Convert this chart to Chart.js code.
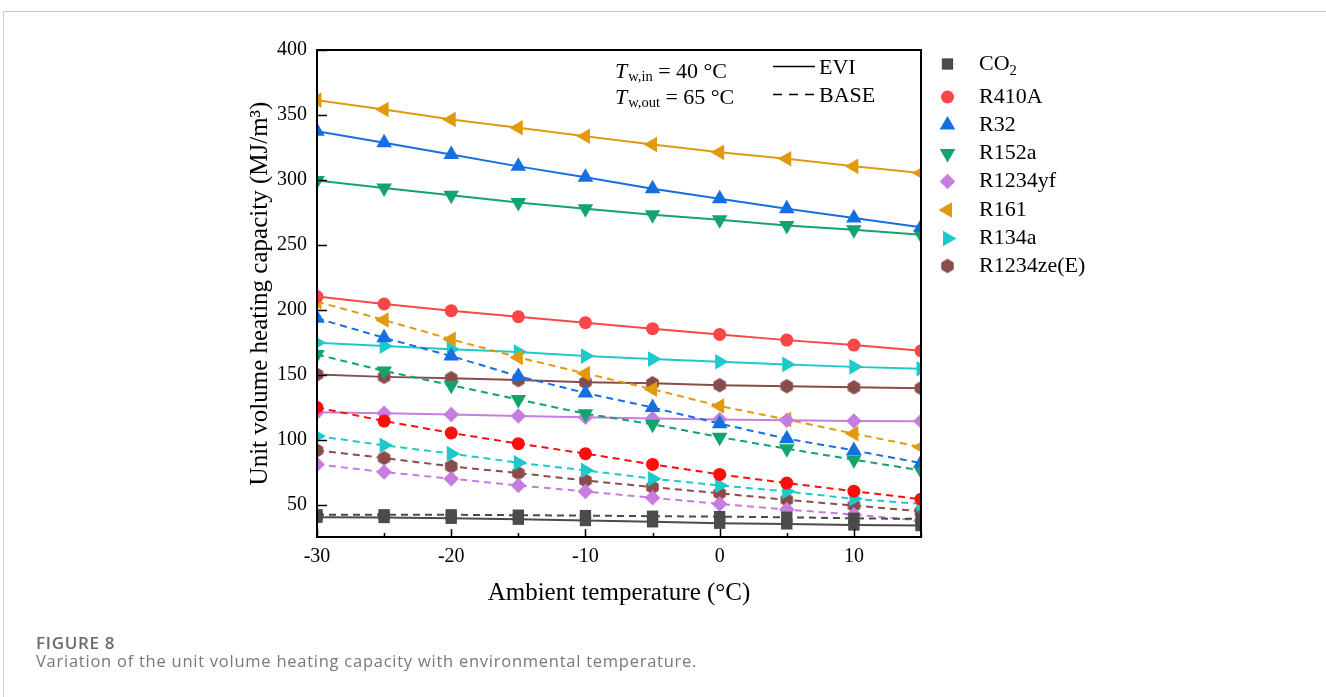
<!DOCTYPE html>
<html>
<head>
<meta charset="utf-8">
<script src="https://cdn.jsdelivr.net/npm/chart.js@4.4.1/dist/chart.umd.min.js"></script>
<style>
  html, body { margin: 0; padding: 0; background: #fff; }
  body { width: 1326px; height: 697px; position: relative; overflow: hidden; }
  #card { position: absolute; left: 3px; top: 11px; width: 1400px; height: 800px;
          border-top: 1px solid #c6c6c6; border-left: 1px solid #d0d0d0; }
  #chart { position: absolute; left: 0; top: 0; }
  .cap { position: absolute; left: 36px; font-family: "Open Sans", sans-serif; color: #6b6b6b; white-space: nowrap; }
  #capTitle { top: 631px; font-size: 17px; font-weight: 600; letter-spacing: 0.7px; }
  #capText { top: 649px; font-size: 16.5px; letter-spacing: 0.75px; color: #787878; }
</style>
</head>
<body>
<div id="card"></div>
<canvas id="chart" width="1326" height="697"></canvas>
<div class="cap" id="capTitle">FIGURE 8</div>
<div class="cap" id="capText">Variation of the unit volume heating capacity with environmental temperature.</div>

<script>
// ambient temperature (°C)
const temps = [-30, -25, -20, -15, -10, -5, 0, 5, 10, 15];
const xTicks = [-30, -20, -10, 0, 10];
const yTicks = [50, 100, 150, 200, 250, 300, 350, 400];

const refrigerants = ["CO2", "R410A", "R32", "R152a", "R1234yf", "R161", "R134a", "R1234ze(E)"];

// unit volume heating capacity (MJ/m3), EVI cycle
const co2Evi     = [40.2, 40.0, 39.4, 38.7, 37.7, 36.7, 35.6, 35.1, 34.3, 33.8];
const r410aEvi   = [210.1, 204.4, 199.3, 194.6, 190.0, 185.4, 181.0, 176.6, 172.8, 168.4];
const r32Evi     = [337.5, 328.5, 319.5, 310.4, 302.0, 293.2, 285.5, 277.8, 270.6, 263.6];
const r152aEvi   = [299.6, 293.8, 288.1, 282.6, 277.8, 273.1, 269.3, 264.9, 261.6, 257.7];
const r1234yfEvi = [121.0, 120.3, 119.3, 118.2, 117.2, 116.2, 115.4, 114.9, 114.3, 114.1];
const r161Evi    = [361.4, 354.2, 346.5, 340.1, 333.6, 327.2, 321.2, 316.2, 310.4, 305.3];
const r134aEvi   = [174.6, 172.0, 169.5, 167.4, 164.3, 162.0, 159.9, 157.9, 156.0, 154.5];
const r1234zeEvi = [150.1, 148.3, 147.3, 145.8, 144.2, 143.4, 141.9, 141.1, 140.3, 139.6];

// unit volume heating capacity (MJ/m3), BASE cycle
const co2Base     = [42.1, 42.1, 42.1, 41.8, 41.5, 41.0, 40.7, 40.2, 39.4, 38.9];
const r410aBase   = [124.7, 114.3, 105.1, 96.9, 89.2, 80.9, 73.2, 66.5, 60.3, 54.1];
const r32Base     = [193.4, 178.4, 164.3, 148.8, 135.9, 124.7, 112.3, 100.7, 91.7, 81.9];
const r152aBase   = [165.5, 152.9, 141.9, 130.8, 120.0, 111.8, 101.9, 93.0, 84.5, 76.3];
const r1234yfBase = [80.9, 75.0, 69.9, 64.7, 60.1, 55.2, 50.5, 46.1, 42.3, 37.6];
const r161Base    = [206.2, 192.1, 177.2, 163.3, 150.9, 138.8, 125.9, 115.4, 104.6, 94.3];
const r134aBase   = [102.7, 95.6, 89.2, 82.2, 76.3, 69.9, 64.7, 60.1, 54.4, 50.5];
const r1234zeBase = [91.7, 85.8, 79.4, 74.2, 68.5, 63.4, 58.7, 53.6, 49.2, 44.8];

const SERIF = '"Liberation Serif", "Times New Roman", serif';

// hexagon symbol (no built-in pointStyle for it)
function hexagon(color, r) {
  const c = document.createElement("canvas");
  const s = Math.ceil(r * 2 + 2);
  c.width = s; c.height = s;
  const g = c.getContext("2d");
  g.fillStyle = color;
  g.beginPath();
  for (let k = 0; k < 6; k++) {
    const a = Math.PI / 3 * k - Math.PI / 2;
    const px = s / 2 + r * Math.cos(a), py = s / 2 + r * Math.sin(a);
    k ? g.lineTo(px, py) : g.moveTo(px, py);
  }
  g.closePath();
  g.fill();
  return c;
}

const styles = [
  { color: "#4b4b4b", base: "#4b4b4b", pointStyle: "rect", rotation: 0, radius: 8 },
  { color: "#fb4646", base: "#ff0d0d", pointStyle: "circle", rotation: 0, radius: 6.5 },
  { color: "#1470e0", base: "#1470e0", pointStyle: "triangle", rotation: 0, radius: 9 },
  { color: "#12a46c", base: "#12a46c", pointStyle: "triangle", rotation: 180, radius: 9 },
  { color: "#c67ddf", base: "#c67ddf", pointStyle: "rectRot", rotation: 0, radius: 7.8 },
  { color: "#e09a0c", base: "#e09a0c", pointStyle: "triangle", rotation: 270, radius: 9 },
  { color: "#1ccaca", base: "#1ccaca", pointStyle: "triangle", rotation: 90, radius: 9 },
  { color: "#8a4b4b", base: "#8a4b4b", pointStyle: null, rotation: 0, radius: 7.2 }
];
styles[7].pointStyle = hexagon(styles[7].color, 7.2);

const eviSeries  = [co2Evi, r410aEvi, r32Evi, r152aEvi, r1234yfEvi, r161Evi, r134aEvi, r1234zeEvi];
const baseSeries = [co2Base, r410aBase, r32Base, r152aBase, r1234yfBase, r161Base, r134aBase, r1234zeBase];

const toXY = (vals) => temps.map((t, i) => ({ x: t, y: vals[i] }));

function makeSet(name, vals, st, color, dashed) {
  return {
    label: name + (dashed ? " BASE" : " EVI"),
    data: toXY(vals),
    borderColor: color,
    backgroundColor: color,
    borderWidth: 2,
    borderDash: dashed ? [7, 5] : [],
    pointStyle: st.pointStyle,
    pointRotation: st.rotation,
    pointRadius: st.radius,
    pointBorderWidth: 0,
    pointBackgroundColor: color,
    tension: 0,
    clip: 0
  };
}

const datasets = [];
refrigerants.forEach((name, i) => {
  datasets.push(makeSet(name, eviSeries[i], styles[i], styles[i].color, false));
  datasets.push(makeSet(name, baseSeries[i], styles[i], styles[i].base, true));
});

function markerAt(ctx, st, x, y) {
  ctx.save();
  ctx.fillStyle = st.color;
  ctx.strokeStyle = st.color;
  Chart.helpers.drawPoint(ctx, { pointStyle: st.pointStyle, rotation: st.rotation, radius: st.radius, borderWidth: 0 }, x, y);
  ctx.restore();
}

// frame, inward ticks, cycle/condition notes and symbol legend
const decorations = {
  id: "decorations",
  afterDraw(chart) {
    const { ctx, chartArea: a, scales } = chart;
    ctx.save();
    ctx.strokeStyle = "#000";
    ctx.lineWidth = 1.5;
    ctx.beginPath();
    scales.y.ticks.forEach(t => {
      const py = Math.round(scales.y.getPixelForValue(t.value)) + 0.5;
      ctx.moveTo(a.left, py); ctx.lineTo(a.left + 10, py);
    });
    temps.forEach(t => {
      const px = Math.round(scales.x.getPixelForValue(t)) + 0.5;
      const len = xTicks.includes(t) ? 8 : 4;
      ctx.moveTo(px, a.bottom); ctx.lineTo(px, a.bottom - len);
    });
    ctx.stroke();

    ctx.lineWidth = 2;
    ctx.strokeRect(a.left, a.top, a.right - a.left, a.bottom - a.top);

    // operating condition
    ctx.fillStyle = "#000";
    ctx.textBaseline = "alphabetic";
    const note = (x, y, sub, rest) => {
      ctx.font = "italic 22px " + SERIF;
      ctx.fillText("T", x, y);
      x += ctx.measureText("T").width + 1;
      ctx.font = "14.5px " + SERIF;
      ctx.fillText(sub, x, y + 3);
      x += ctx.measureText(sub).width;
      ctx.font = "22px " + SERIF;
      ctx.fillText(rest, x, y);
    };
    note(615, 78, "w,in", " = 40 \u00B0C");
    note(615, 104, "w,out", " = 65 \u00B0C");

    ctx.lineWidth = 1.6;
    ctx.beginPath();
    ctx.moveTo(773, 66.5); ctx.lineTo(815, 66.5);
    ctx.stroke();
    ctx.setLineDash([9, 7]);
    ctx.beginPath();
    ctx.moveTo(773, 94.5); ctx.lineTo(815, 94.5);
    ctx.stroke();
    ctx.setLineDash([]);
    ctx.font = "22px " + SERIF;
    ctx.fillText("EVI", 819, 74);
    ctx.fillText("BASE", 819, 102);

    // symbol legend
    const rows = [64, 97, 125, 153.5, 181.5, 210, 238.5, 266];
    refrigerants.forEach((name, i) => {
      markerAt(ctx, styles[i], 947.5, rows[i]);
      ctx.fillStyle = "#000";
      ctx.font = "22px " + SERIF;
      ctx.textBaseline = "middle";
      if (name === "CO2") {
        ctx.fillText("CO", 979, rows[i]);
        const w = ctx.measureText("CO").width;
        ctx.font = "14.5px " + SERIF;
        ctx.fillText("2", 979 + w, rows[i] + 7);
      } else {
        ctx.fillText(name, 979, rows[i]);
      }
    });
    ctx.restore();
  }
};

new Chart(document.getElementById("chart"), {
  type: "line",
  data: { datasets },
  options: {
    responsive: false,
    animation: false,
    devicePixelRatio: 1,
    layout: { padding: { left: 0, top: 50, right: 405, bottom: 0 } },
    plugins: { legend: { display: false }, tooltip: { enabled: false } },
    scales: {
      x: {
        type: "linear",
        min: -30, max: 15,
        afterBuildTicks: (s) => { s.ticks = xTicks.map(v => ({ value: v })); },
        afterFit: (s) => { s.height = 160; },
        grid: { display: false, drawTicks: false },
        border: { display: false },
        ticks: { color: "#000", padding: 8, font: { family: SERIF, size: 20 } },
        title: { display: true, text: "Ambient temperature (\u00B0C)", color: "#000",
                 font: { family: SERIF, size: 25 }, padding: { top: 0, bottom: 89 } }
      },
      y: {
        type: "linear",
        min: 25, max: 400,
        afterBuildTicks: (s) => { s.ticks = yTicks.map(v => ({ value: v })); },
        afterFit: (s) => { s.width = 317; },
        grid: { display: false, drawTicks: false },
        border: { display: false },
        ticks: { color: "#000", padding: 10, font: { family: SERIF, size: 20 } },
        title: { display: true, text: "Unit volume heating capacity (MJ/m\u00B3)", color: "#000",
                 font: { family: SERIF, size: 25 }, padding: { top: 245, bottom: 0 } }
      }
    }
  },
  plugins: [decorations]
});
</script>
</body>
</html>
